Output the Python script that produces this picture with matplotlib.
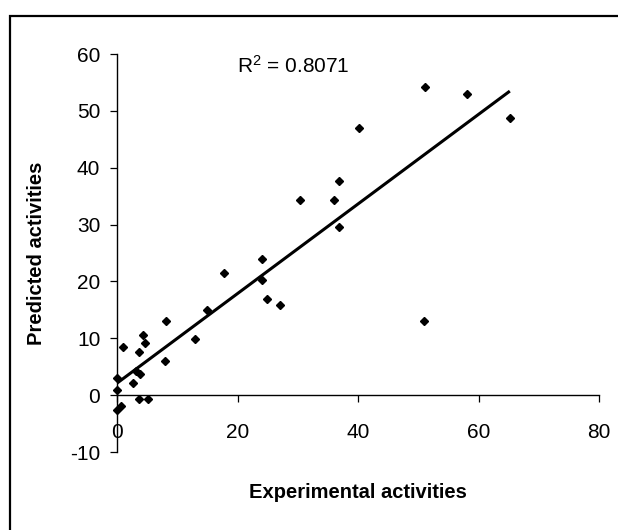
import numpy as np
import matplotlib
matplotlib.use("Agg")
import matplotlib.pyplot as plt
from matplotlib.patches import Rectangle

plt.rcParams['font.family'] = ['Liberation Sans', 'DejaVu Sans']
plt.rcParams['axes.unicode_minus'] = False
plt.rcParams['mathtext.default'] = 'regular'

# experimental vs predicted activities
x_exp = [0.0, 0.0, 0.0, 0.6, 1.0, 2.6, 3.1, 3.6, 3.6, 3.8, 4.3, 4.6, 5.2,
         8.0, 8.2, 12.9, 14.9, 17.8, 24.1, 24.1, 24.9, 27.0, 30.3, 36.0,
         36.9, 36.9, 40.2, 51.0, 51.1, 58.1, 65.2]
y_pred = [3.1, 0.9, -2.6, -1.9, 8.5, 2.2, 4.3, 7.6, -0.7, 3.7, 10.5, 9.1, -0.7,
          6.0, 13.1, 9.8, 15.0, 21.4, 23.9, 20.3, 16.9, 15.9, 34.4, 34.4,
          37.6, 29.6, 46.9, 13.0, 54.2, 52.9, 48.7]

x_ticks = [0, 20, 40, 60, 80]
y_ticks = [-10, 0, 10, 20, 30, 40, 50, 60]
r2_label = "R$^2$ = 0.8071"

x = np.array(x_exp)
y = np.array(y_pred)
slope, icpt = np.polyfit(x, y, 1)
xf = np.array([x.min(), x.max()])

fig = plt.figure(figsize=(6.18, 5.30), dpi=100)
ax = fig.add_axes([117/618, 78/530, 482/618, 398/530])

# outer chart frame (only left and top edges are visible)
fig.patches.append(Rectangle((10/618, -0.2), 1.2, 1.2 - 16/530,
                             transform=fig.transFigure, fill=False,
                             edgecolor='black', linewidth=1.6))

ax.plot(xf, slope*xf + icpt, color='black', linewidth=2.2, solid_capstyle='butt')
ax.plot(x, y, linestyle='none', marker='D', markersize=4.3, color='black',
        clip_on=False)

ax.set_xlim(0, 80)
ax.set_ylim(-10, 60)
ax.set_xticks(x_ticks)
ax.set_yticks(y_ticks)

ax.spines['top'].set_visible(False)
ax.spines['right'].set_visible(False)
ax.spines['bottom'].set_position(('data', 0))
for s in ['left', 'bottom']:
    ax.spines[s].set_linewidth(1.0)
ax.tick_params(axis='both', labelsize=15, length=5, width=0.9, direction='out')
ax.tick_params(axis='x', pad=15)
ax.tick_params(axis='y', pad=7)

ax.text(19.9, 58.0, r2_label, fontsize=15, va='center', ha='left')

ax.set_xlabel("Experimental activities", fontsize=14.5, fontweight='bold')
ax.xaxis.set_label_coords(0.5, -0.103)
ax.xaxis.label.set_va('center')
ax.set_ylabel("Predicted activities", fontsize=14.5, fontweight='bold')
ax.yaxis.set_label_coords(-0.168, 0.5)
ax.yaxis.label.set_va('center')

fig.savefig("out.png", dpi=100)
